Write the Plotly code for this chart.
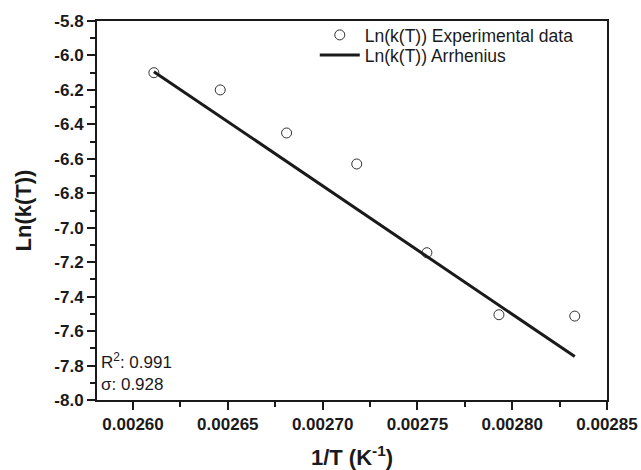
import plotly.graph_objects as go

inv_T = [0.002611, 0.002646, 0.002681, 0.002718, 0.002755, 0.002793, 0.002833]
ln_k_exp = [-6.10, -6.20, -6.45, -6.63, -7.145, -7.505, -7.513]
fit_x = [0.002611, 0.002833]
fit_y = [-6.094, -7.748]
x_ticks = [0.00260, 0.00265, 0.00270, 0.00275, 0.00280, 0.00285]
x_tick_labels = ["0.00260", "0.00265", "0.00270", "0.00275", "0.00280", "0.00285"]
y_ticks = [-5.8, -6.0, -6.2, -6.4, -6.6, -6.8, -7.0, -7.2, -7.4, -7.6, -7.8, -8.0]
y_tick_labels = ["-5.8", "-6.0", "-6.2", "-6.4", "-6.6", "-6.8", "-7.0", "-7.2", "-7.4", "-7.6", "-7.8", "-8.0"]

FONT = "Liberation Sans"
INK = "#1a1a1a"

fig = go.Figure()
fig.add_trace(go.Scatter(
    x=inv_T, y=ln_k_exp, mode="markers", name="Ln(k(T)) Experimental data",
    marker=dict(symbol="circle-open", size=10, color="#333333", line=dict(width=1)),
    legend="legend"
))
fig.add_trace(go.Scatter(
    x=fit_x, y=fit_y, mode="lines", name="Ln(k(T)) Arrhenius",
    line=dict(color=INK, width=3),
    legend="legend2"
))

axis_common = dict(
    showline=True, linecolor=INK, linewidth=2, mirror=True,
    ticks="outside", ticklen=8, tickwidth=2, tickcolor=INK,
    showgrid=False, zeroline=False, automargin=False,
    tickfont=dict(family=FONT, size=17, color=INK),
)

legend_common = dict(
    xanchor="left", yanchor="middle",
    bgcolor="rgba(0,0,0,0)", borderwidth=0,
    font=dict(family=FONT, size=17.5, color=INK),
    itemwidth=40,
)

fig.update_layout(
    width=641, height=470,
    margin=dict(l=97, r=34, t=21, b=70, autoexpand=False),
    paper_bgcolor="white", plot_bgcolor="white",
    font=dict(family=FONT, color=INK),
    xaxis=dict(
        range=[0.002581, 0.00285],
        tickvals=x_ticks, ticktext=["<b>%s</b>" % t for t in x_tick_labels],
        minor=dict(dtick=0.000025, tick0=0.0026, ticks="outside", ticklen=5, tickwidth=2, tickcolor=INK),
        title=dict(text="<b>1/T (K<sup>-1</sup>)</b>", font=dict(family=FONT, size=22, color=INK), standoff=17),
        **axis_common
    ),
    yaxis=dict(
        range=[-8.0, -5.8],
        tickvals=y_ticks, ticktext=["<b>%s</b>" % t for t in y_tick_labels],
        minor=dict(dtick=0.1, tick0=-8.0, ticks="outside", ticklen=5, tickwidth=2, tickcolor=INK),
        title=dict(text="<b>Ln(k(T))</b>", font=dict(family=FONT, size=22, color=INK), standoff=17),
        **axis_common
    ),
    legend=dict(x=0.427, y=0.963, **legend_common),
    legend2=dict(x=0.427, y=0.910, **legend_common),
    showlegend=True,
)

fig.add_annotation(
    xref="paper", yref="paper", x=0.0, y=0.104, xanchor="left", yanchor="middle",
    text="R<sup>2</sup>: 0.991", showarrow=False, xshift=2,
    font=dict(family=FONT, size=17, color=INK)
)
fig.add_annotation(
    xref="paper", yref="paper", x=0.0, y=0.041, xanchor="left", yanchor="middle",
    text="σ: 0.928", showarrow=False, xshift=2,
    font=dict(family=FONT, size=17, color=INK)
)

fig.write_html("out.html")
